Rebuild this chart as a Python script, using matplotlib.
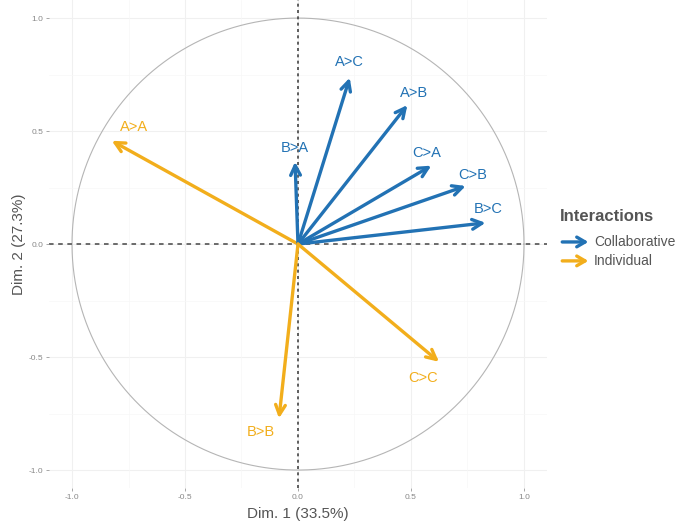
import numpy as np
import matplotlib
matplotlib.use("Agg")
from matplotlib import pyplot as plt

plt.rcParams['font.family'] = ['Liberation Sans', 'DejaVu Sans']

# variable coordinates on the two dimensions
names = ['A>A', 'B>A', 'A>C', 'A>B', 'C>A', 'C>B', 'B>C', 'C>C', 'B>B']
dim1 = [-0.824, -0.013, 0.229, 0.484, 0.590, 0.742, 0.830, 0.624, -0.084]
dim2 = [0.457, 0.364, 0.736, 0.615, 0.347, 0.257, 0.094, -0.521, -0.771]
group = ['Individual', 'Collaborative', 'Collaborative', 'Collaborative',
         'Collaborative', 'Collaborative', 'Collaborative', 'Individual', 'Individual']

# label offsets (data units) from the arrow tip
lab_dx = [0.10, 0.0, 0.0, 0.03, -0.02, 0.03, 0.01, -0.07, -0.08]
lab_dy = [0.06, 0.06, 0.07, 0.055, 0.055, 0.05, 0.06, -0.07, -0.06]

colors = {'Collaborative': '#2272B4', 'Individual': '#F2AE1C'}
ticks = [-1.0, -0.5, 0.0, 0.5, 1.0]

fig = plt.figure(figsize=(6.89, 5.26), dpi=100)
ax = fig.add_axes([0.070, 0.072, 0.725, 0.928])

ax.set_xlim(-1.1, 1.1)
ax.set_ylim(-1.08, 1.08)
ax.set_aspect('equal', adjustable='box')

# light grid
for t in ticks:
    ax.axvline(t, color='#f0f0f0', lw=0.8, zorder=0)
    ax.axhline(t, color='#f0f0f0', lw=0.8, zorder=0)
for t in [-0.75, -0.25, 0.25, 0.75]:
    ax.axvline(t, color='#f7f7f7', lw=0.5, zorder=0)
    ax.axhline(t, color='#f7f7f7', lw=0.5, zorder=0)

th = np.linspace(0, 2 * np.pi, 400)
ax.plot(np.cos(th), np.sin(th), color='#b5b5b5', lw=0.8, zorder=1)

ax.axhline(0, color='#444444', lw=1.1, ls=(0, (3, 3)), zorder=1)
ax.axvline(0, color='#444444', lw=1.2, ls=(0, (1.8, 2)), zorder=1)

for i in range(len(names)):
    c = colors[group[i]]
    ax.annotate('', xy=(dim1[i], dim2[i]), xytext=(0, 0),
                arrowprops=dict(arrowstyle='->,head_length=0.7,head_width=0.35',
                                color=c, lw=2.4, shrinkA=0, shrinkB=0),
                zorder=3)
    ax.text(dim1[i] + lab_dx[i], dim2[i] + lab_dy[i], names[i], color=c,
            fontsize=10.5, ha='center', va='center', zorder=4)

for s in ax.spines.values():
    s.set_visible(False)
ax.set_xticks(ticks)
ax.set_yticks(ticks)
ax.set_xticklabels(['-1.0', '-0.5', '0.0', '0.5', '1.0'])
ax.set_yticklabels(['-1.0', '-0.5', '0.0', '0.5', '1.0'])
ax.tick_params(length=2.5, width=0.6, color='#999999', labelsize=6,
               labelcolor='#888888', pad=2)
ax.set_xlabel('Dim. 1 (33.5%)', fontsize=11, color='#555555', labelpad=4)
ax.set_ylabel('Dim. 2 (27.3%)', fontsize=11, color='#555555', labelpad=2)

# legend
fig.text(0.812, 0.588, 'Interactions', fontsize=12, fontweight='bold',
         color='#555555', ha='left', va='center')
leg_items = ['Collaborative', 'Individual']
for k, g in enumerate(leg_items):
    yy = 0.540 - k * 0.036
    fig.patches.append(matplotlib.patches.FancyArrowPatch(
        (0.812, yy), (0.858, yy), transform=fig.transFigure,
        arrowstyle='->,head_length=0.6,head_width=0.35', color=colors[g],
        lw=2.4, mutation_scale=10))
    fig.text(0.862, yy, g, fontsize=10, color='#555555', ha='left', va='center')

fig.savefig('out.png', dpi=100)
